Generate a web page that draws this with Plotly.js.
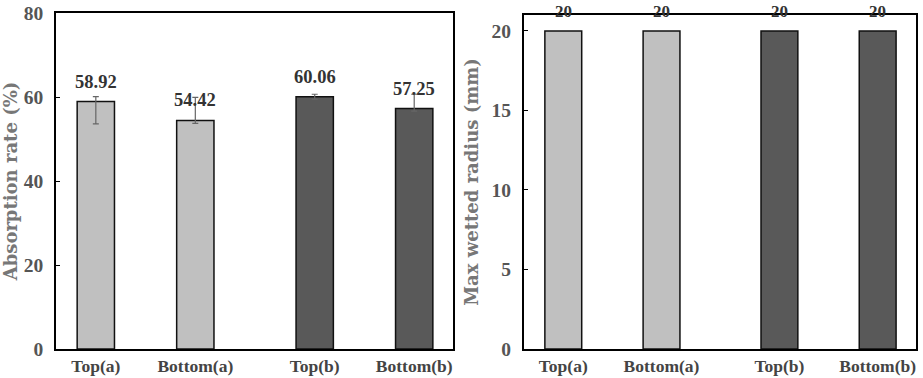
<!DOCTYPE html>
<html>
<head>
<meta charset="utf-8">
<script src="https://cdn.plot.ly/plotly-3.0.1.min.js"></script>
<style>html,body{margin:0;padding:0;background:#fff;}#chart{width:923px;height:378px;}</style>
</head>
<body>
<div id="chart"></div>
<script>
// ---- data ----
var categories = ['Top(a)', 'Bottom(a)', 'Top(b)', 'Bottom(b)'];
var groups = ['a', 'a', 'b', 'b'];
var absorption = [58.92, 54.42, 60.06, 57.25];
var absorptionErrUp = [1.15, 5.5, 0.6, 3.4];
var absorptionErrDown = [5.3, 0.7, 0.6, 0.6];
var absorptionLabels = ['58.92', '54.42', '60.06', '57.25'];
var wettedRadius = [20, 20, 20, 20];
var wettedLabels = ['20', '20', '20', '20'];

// ---- layout helpers ----
var groupGap = 0.2;
var xpos = categories.map(function (c, i) { return i + 1 + (groups[i] === 'b' ? groupGap : 0); });
var fills = groups.map(function (g) { return g === 'a' ? '#c0c0c0' : '#595959'; });
var serif = 'Liberation Serif, Times New Roman, serif';
var wideSerif = 'DejaVu Serif, serif';

var barCommon = {
  type: 'bar',
  x: xpos,
  width: 0.375,
  marker: { color: fills, line: { color: '#111', width: 1.5 } },
  hoverinfo: 'none',
  showlegend: false
};

var t1 = Object.assign({}, barCommon, {
  y: absorption,
  xaxis: 'x', yaxis: 'y',
  error_y: {
    type: 'data', symmetric: false,
    array: absorptionErrUp, arrayminus: absorptionErrDown,
    color: '#666', thickness: 1.2, width: 3
  }
});
var t2 = Object.assign({}, barCommon, {
  y: wettedRadius,
  xaxis: 'x2', yaxis: 'y2'
});

var annotations = [];
categories.forEach(function (c, i) {
  annotations.push({
    xref: 'x', yref: 'y', x: xpos[i], y: absorption[i],
    text: absorptionLabels[i], showarrow: false, yanchor: 'bottom', yshift: 8,
    font: { family: serif, size: 18.5, color: '#333', weight: 'bold' }
  });
  annotations.push({
    xref: 'x2', yref: 'y2', x: xpos[i], y: wettedRadius[i],
    text: wettedLabels[i], showarrow: false, yanchor: 'bottom', yshift: 8,
    font: { family: serif, size: 17, color: '#333', weight: 'bold' }
  });
});

var xaxisCommon = {
  range: [0.6, 4.59],
  tickvals: xpos, ticktext: categories,
  ticks: '', showgrid: false, zeroline: false,
  showline: true, mirror: true, linecolor: '#000', linewidth: 2,
  tickfont: { family: serif, size: 17.5, color: '#444', weight: 'bold' },
  fixedrange: true
};
var yaxisCommon = {
  showgrid: false, zeroline: false,
  showline: true, mirror: true, linecolor: '#000', linewidth: 2,
  ticks: 'inside', ticklen: 4, tickcolor: '#000', tickwidth: 1,
  ticklabelstandoff: 7,
  tickfont: { family: serif, size: 19.5, color: '#555', weight: 'bold' },
  fixedrange: true
};

var layout = {
  width: 923, height: 378,
  margin: { l: 0, r: 0, t: 0, b: 0 },
  paper_bgcolor: '#fff', plot_bgcolor: '#fff',
  showlegend: false,
  xaxis: Object.assign({}, xaxisCommon, { domain: [0.0607, 0.4908], anchor: 'y' }),
  yaxis: Object.assign({}, yaxisCommon, {
    domain: [0.0767, 0.9656], anchor: 'x',
    range: [0, 80], tickvals: [0, 20, 40, 60, 80],
    title: { text: 'Absorption rate (%)', standoff: 8,
      font: { family: wideSerif, size: 18, color: '#777', weight: 'bold' } }
  }),
  xaxis2: Object.assign({}, xaxisCommon, { domain: [0.5677, 0.9924], anchor: 'y2' }),
  yaxis2: Object.assign({}, yaxisCommon, {
    domain: [0.0767, 0.9603], anchor: 'x2',
    range: [0, 21], tickvals: [0, 5, 10, 15, 20],
    title: { text: 'Max wetted radius (mm)', standoff: 8,
      font: { family: wideSerif, size: 18, color: '#777', weight: 'bold' } }
  }),
  annotations: annotations
};

Plotly.newPlot('chart', [t1, t2], layout, { displayModeBar: false, staticPlot: true });
</script>
</body>
</html>
